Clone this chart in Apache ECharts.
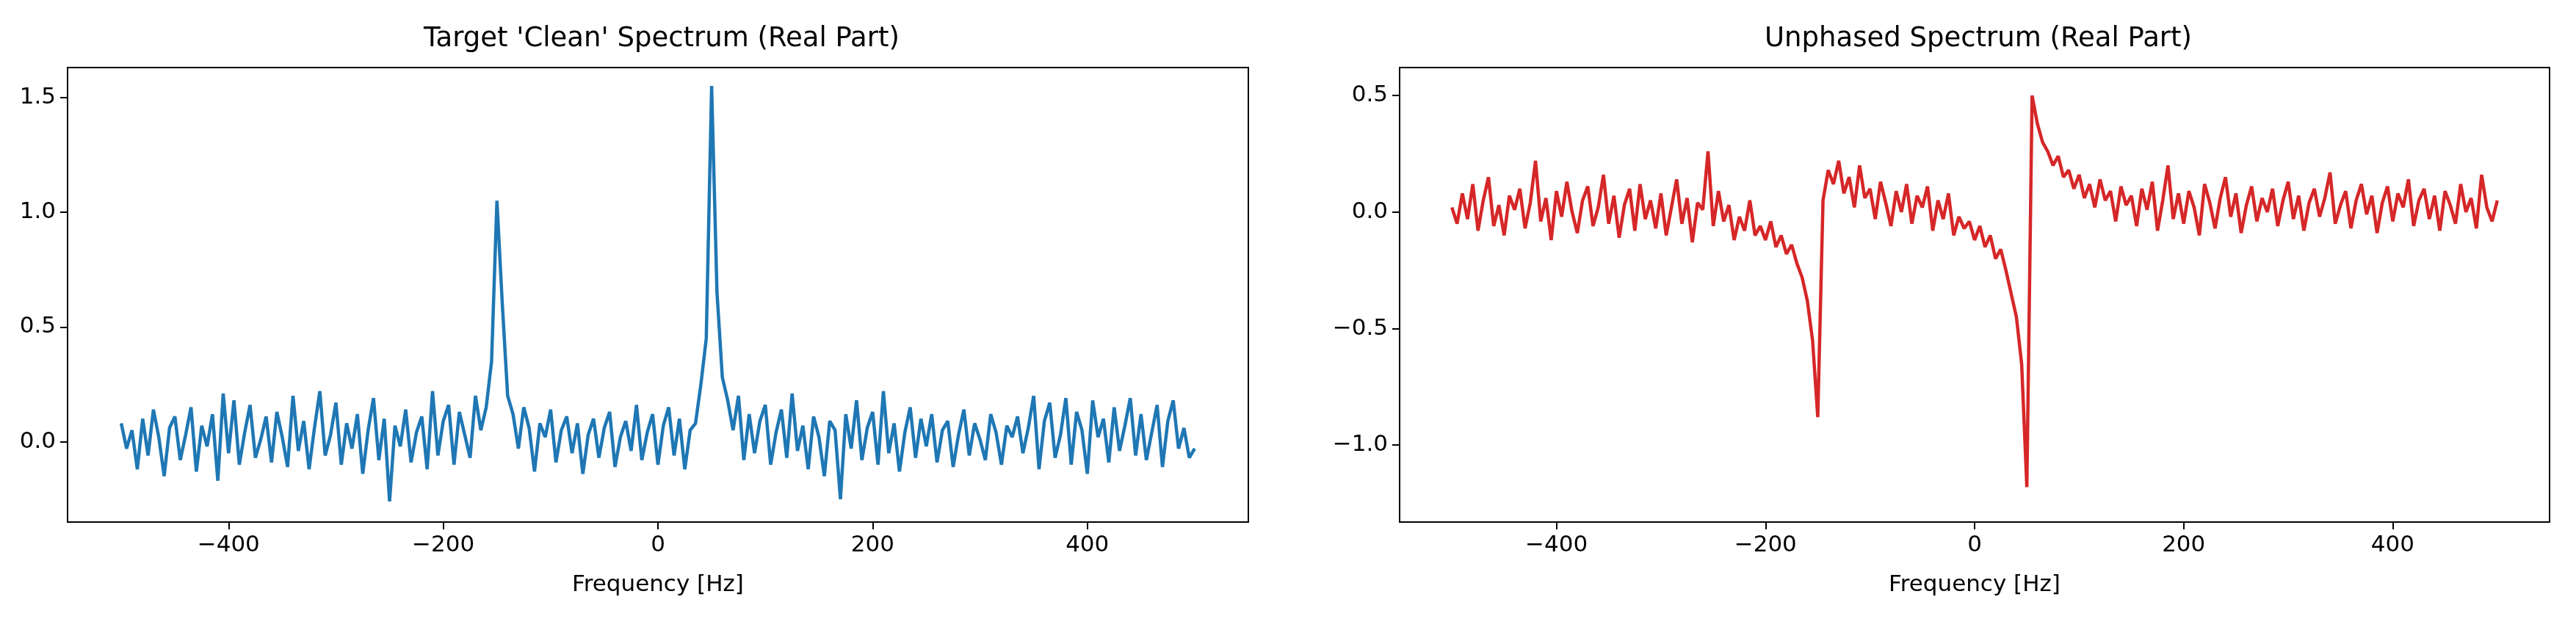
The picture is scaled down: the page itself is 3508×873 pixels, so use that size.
<!DOCTYPE html>
<html>
  <head>
    <meta charset="utf-8" />
    <title>Spectra</title>
    <script src="https://cdn.jsdelivr.net/npm/echarts@6/dist/echarts.min.js"></script>
  </head>
  <body style="margin:0;background:#fff;">
    <div id="chart" style="width:3508px;height:873px;"></div>
    <script type="text/javascript">
      // frequency bins: -500..500 Hz, 5 Hz step
      var freq = [];
      for (var i = 0; i <= 200; i++) freq.push(-500 + 5 * i);

      var clean = [
        0.08,-0.03,0.05,-0.12,0.10,-0.06,0.14,0.02,-0.15,0.06,
        0.11,-0.08,0.03,0.15,-0.13,0.07,-0.02,0.12,-0.17,0.21,
        -0.05,0.18,-0.10,0.04,0.16,-0.07,0.01,0.11,-0.09,0.13,
        0.02,-0.11,0.20,-0.04,0.09,-0.12,0.06,0.22,-0.06,0.03,
        0.17,-0.10,0.08,-0.03,0.12,-0.14,0.05,0.19,-0.08,0.10,
        -0.26,0.07,-0.02,0.14,-0.09,0.04,0.11,-0.12,0.22,-0.06,
        0.09,0.16,-0.10,0.13,0.03,-0.07,0.20,0.05,0.15,0.35,
        1.05,0.60,0.20,0.12,-0.03,0.15,0.06,-0.13,0.08,0.02,
        0.14,-0.09,0.05,0.11,-0.05,0.08,-0.14,0.03,0.10,-0.07,
        0.06,0.13,-0.11,0.02,0.09,-0.04,0.16,-0.08,0.04,0.12,
        -0.10,0.07,0.15,-0.06,0.10,-0.12,0.05,0.08,0.25,0.45,
        1.55,0.65,0.28,0.18,0.05,0.20,-0.08,0.12,-0.05,0.09,
        0.16,-0.10,0.04,0.14,-0.07,0.21,-0.04,0.07,-0.12,0.11,
        0.02,-0.15,0.09,0.05,-0.25,0.12,-0.03,0.18,-0.08,0.06,
        0.13,-0.10,0.22,-0.05,0.08,-0.13,0.04,0.15,-0.07,0.10,
        -0.02,0.12,-0.09,0.05,0.09,-0.11,0.03,0.14,-0.06,0.08,
        0.01,-0.08,0.12,0.04,-0.10,0.07,0.02,0.11,-0.05,0.06,
        0.20,-0.12,0.09,0.17,-0.07,0.03,0.19,-0.10,0.13,0.05,
        -0.14,0.18,0.02,0.10,-0.09,0.15,-0.04,0.07,0.19,-0.06,
        0.12,-0.08,0.04,0.16,-0.11,0.09,0.18,-0.03,0.06,-0.07,
        -0.03
      ];

      var unphased = [
        0.02,-0.05,0.08,-0.03,0.12,-0.08,0.05,0.15,-0.06,0.03,
        -0.10,0.07,0.01,0.10,-0.07,0.04,0.22,-0.04,0.06,-0.12,
        0.09,-0.02,0.13,0.00,-0.09,0.05,0.11,-0.06,0.02,0.16,
        -0.05,0.07,-0.11,0.03,0.10,-0.08,0.12,-0.03,0.05,-0.07,
        0.08,-0.10,0.02,0.14,-0.05,0.06,-0.13,0.04,0.01,0.26,
        -0.06,0.09,-0.04,0.03,-0.12,-0.02,-0.08,0.05,-0.10,-0.06,
        -0.12,-0.04,-0.15,-0.10,-0.18,-0.14,-0.22,-0.28,-0.38,-0.55,
        -0.88,0.05,0.18,0.12,0.22,0.08,0.15,0.02,0.20,0.06,
        0.10,-0.03,0.13,0.04,-0.06,0.09,0.00,0.12,-0.05,0.07,
        0.02,0.11,-0.08,0.05,-0.03,0.08,-0.10,-0.02,-0.07,-0.04,
        -0.12,-0.06,-0.15,-0.10,-0.20,-0.16,-0.25,-0.35,-0.45,-0.65,
        -1.18,0.50,0.38,0.30,0.26,0.20,0.24,0.15,0.18,0.10,
        0.16,0.06,0.12,0.02,0.14,0.05,0.09,-0.04,0.11,0.03,
        0.07,-0.06,0.10,0.01,0.13,-0.08,0.05,0.20,-0.03,0.08,
        -0.05,0.09,0.02,-0.10,0.12,0.04,-0.07,0.06,0.15,-0.02,
        0.08,-0.09,0.03,0.11,-0.04,0.06,0.00,0.10,-0.06,0.05,
        0.13,-0.03,0.07,-0.08,0.04,0.10,-0.02,0.06,0.17,-0.05,
        0.03,0.09,-0.07,0.05,0.12,-0.01,0.07,-0.09,0.04,0.11,
        -0.04,0.08,0.02,0.14,-0.06,0.05,0.10,-0.03,0.07,-0.08,
        0.09,0.03,-0.05,0.12,0.00,0.06,-0.07,0.16,0.02,-0.04,
        0.05
      ];

      var xTicks = [-400, -200, 0, 200, 400];
      var yTicksLeft = [0, 0.5, 1.0, 1.5];
      var yTicksRight = [-1.0, -0.5, 0, 0.5];
      var titles = ["Target 'Clean' Spectrum (Real Part)", "Unphased Spectrum (Real Part)"];

      function pairs(ys) {
        return freq.map(function (f, i) { return [f, ys[i]]; });
      }
      var font = 'DejaVu Sans';
      function xAxis(idx) {
        return {
          type: 'value', gridIndex: idx, min: -550, max: 550,
          name: 'Frequency [Hz]', nameLocation: 'middle', nameGap: 70,
          nameTextStyle: { fontFamily: font, fontSize: 31, color: '#000' },
          axisLine: { show: false, onZero: false }, splitLine: { show: false },
          axisTick: { show: true, length: 10, customValues: xTicks, lineStyle: { color: '#000', width: 2 } },
          axisLabel: { customValues: xTicks, fontFamily: font, fontSize: 31, color: '#000', margin: 16,
            formatter: function (v) { return v < 0 ? '\u2212' + (-v) : '' + v; } }
        };
      }
      function yAxis(idx, min, max, ticks) {
        return {
          type: 'value', gridIndex: idx, min: min, max: max,
          axisLine: { show: false, onZero: false }, splitLine: { show: false },
          axisTick: { show: true, length: 10, customValues: ticks, lineStyle: { color: '#000', width: 2 } },
          axisLabel: { customValues: ticks, fontFamily: font, fontSize: 31, color: '#000', margin: 16,
            formatter: function (v) { return v < 0 ? '\u2212' + (-v).toFixed(1) : v.toFixed(1); } }
        };
      }
      var chart = echarts.init(document.getElementById('chart'), null, { renderer: 'canvas' });
      chart.setOption({
        backgroundColor: '#fff',
        animation: false,
        title: [
          { text: titles[0], left: 896, top: 30, textAlign: 'center', textStyle: { fontFamily: font, fontSize: 37, fontWeight: 'normal', color: '#000' } },
          { text: titles[1], left: 2689, top: 30, textAlign: 'center', textStyle: { fontFamily: font, fontSize: 37, fontWeight: 'normal', color: '#000' } }
        ],
        grid: [
          { left: 92, right: 1808, top: 92, bottom: 162, show: true, borderColor: '#000', borderWidth: 2, backgroundColor: 'transparent' },
          { left: 1906, right: 36, top: 92, bottom: 162, show: true, borderColor: '#000', borderWidth: 2, backgroundColor: 'transparent' }
        ],
        xAxis: [xAxis(0), xAxis(1)],
        yAxis: [yAxis(0, -0.35, 1.63, yTicksLeft), yAxis(1, -1.33, 0.62, yTicksRight)],
        series: [
          { type: 'line', xAxisIndex: 0, yAxisIndex: 0, data: pairs(clean), showSymbol: false,
            lineStyle: { color: '#1f77b4', width: 4.5 } },
          { type: 'line', xAxisIndex: 1, yAxisIndex: 1, data: pairs(unphased), showSymbol: false,
            lineStyle: { color: '#d62728', width: 4.5 } }
        ]
      });
    </script>
  </body>
</html>
